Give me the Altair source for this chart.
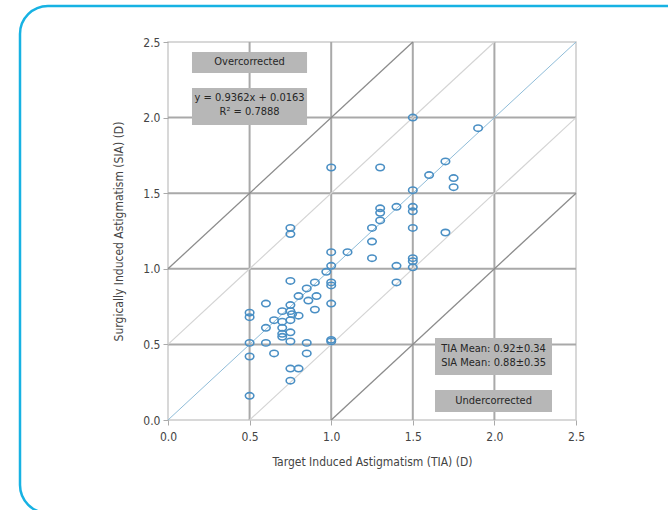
import altair as alt
import pandas as pd

# ---- data ----
tia = [1.50, 1.90, 1.00, 1.30, 1.70, 1.60, 1.75, 1.75, 1.50, 1.30,
       1.30, 1.40, 1.50, 1.50, 1.30, 1.25, 1.50, 1.70, 1.25, 1.00,
       1.10, 1.25, 1.50, 1.50, 1.40, 1.50, 1.00, 1.40, 1.00, 1.00,
       0.97, 0.75, 0.75, 0.75, 0.90, 0.85, 0.80, 0.91, 0.86, 1.00,
       0.60, 0.75, 0.90, 0.50, 0.50, 0.70, 0.75, 0.76, 0.75, 0.80,
       0.65, 0.70, 0.60, 0.70, 0.70, 0.70, 0.75, 0.50, 0.60, 0.75,
       0.85, 1.00, 1.00, 0.50, 0.65, 0.85, 0.75, 0.80, 0.75, 0.50]
sia = [2.00, 1.93, 1.67, 1.67, 1.71, 1.62, 1.60, 1.54, 1.52, 1.40,
       1.37, 1.41, 1.41, 1.38, 1.32, 1.27, 1.27, 1.24, 1.18, 1.11,
       1.11, 1.07, 1.07, 1.05, 1.02, 1.01, 1.02, 0.91, 0.91, 0.89,
       0.98, 1.27, 1.23, 0.92, 0.91, 0.87, 0.82, 0.82, 0.79, 0.77,
       0.77, 0.76, 0.73, 0.71, 0.68, 0.72, 0.72, 0.70, 0.66, 0.69,
       0.66, 0.65, 0.61, 0.61, 0.57, 0.55, 0.58, 0.51, 0.51, 0.52,
       0.51, 0.53, 0.52, 0.42, 0.44, 0.44, 0.34, 0.34, 0.26, 0.16]

grid_values = [0.5, 1.0, 1.5, 2.0]
diag_offsets = [-1.0, -0.5, 0.0, 0.5, 1.0]
diag_kind = ["dark", "light", "identity", "light", "dark"]

box_labels = ["Overcorrected", "eq", "means", "Undercorrected"]
box_x1 = [0.147, 0.147, 1.636, 1.636]
box_x2 = [0.852, 0.852, 2.353, 2.353]
box_y1 = [2.295, 1.951, 0.298, 0.053]
box_y2 = [2.434, 2.196, 0.542, 0.198]

text_lines = ["Overcorrected", "y = 0.9362x + 0.0163", "R² = 0.7888",
              "TIA Mean: 0.92±0.34", "SIA Mean: 0.88±0.35", "Undercorrected"]
text_x = [0.5, 0.5, 0.5, 1.995, 1.995, 1.995]
text_y = [2.365, 2.13, 2.035, 0.468, 0.375, 0.126]

FONT = "DejaVu Sans Condensed, Liberation Sans Narrow, sans-serif"

# ---- tables ----
pts = pd.DataFrame({"TIA": tia, "SIA": sia})
lo, hi = 0.0, 2.5
drows = []
for off, kind in zip(diag_offsets, diag_kind):
    x1 = max(lo, lo - off)
    x2 = min(hi, hi - off)
    drows.append({"x": x1, "y": x1 + off, "x2": x2, "y2": x2 + off, "kind": kind})
diag = pd.DataFrame(drows)
grid = pd.DataFrame({"v": grid_values})
boxes = pd.DataFrame({"name": box_labels, "x1": box_x1, "x2": box_x2, "y1": box_y1, "y2": box_y2})
texts = pd.DataFrame({"t": text_lines, "x": text_x, "y": text_y})

xs = alt.Scale(domain=[0, 2.5], nice=False)
ys = alt.Scale(domain=[0, 2.5], nice=False)

frame = alt.Chart(pd.DataFrame({"a": [0]})).mark_rect(
    cornerRadius=28, fill=None, stroke="#17b2e3", strokeWidth=2.5
).encode(x=alt.value(-148), x2=alt.value(530), y=alt.value(-36), y2=alt.value(471))

vgrid = alt.Chart(grid).mark_rule(color="#a9a9a9", strokeWidth=2).encode(
    x=alt.X("v:Q", scale=xs))
hgrid = alt.Chart(grid).mark_rule(color="#a9a9a9", strokeWidth=2).encode(
    y=alt.Y("v:Q", scale=ys))

diag_layer = alt.Chart(diag).mark_rule().encode(
    x=alt.X("x:Q", scale=xs), y=alt.Y("y:Q", scale=ys),
    x2="x2:Q", y2="y2:Q",
    color=alt.Color("kind:N", scale=alt.Scale(domain=["dark", "light", "identity"],
                                              range=["#8c8c8c", "#d4d4d4", "#8fbcd8"]),
                    legend=None),
    strokeWidth=alt.StrokeWidth("kind:N", scale=alt.Scale(domain=["dark", "light", "identity"],
                                                          range=[1.3, 1.0, 1.5]), legend=None),
)

box_layer = alt.Chart(boxes).mark_rect(fill="#b7b7b7").encode(
    x=alt.X("x1:Q", scale=xs), x2="x2:Q", y=alt.Y("y1:Q", scale=ys), y2="y2:Q")

text_layer = alt.Chart(texts).mark_text(
    font=FONT, fontSize=11, color="#262626", baseline="middle", align="center"
).encode(x=alt.X("x:Q", scale=xs), y=alt.Y("y:Q", scale=ys), text="t:N")

ellipse = "M-1,0A1,0.75 0 1,0 1,0A1,0.75 0 1,0 -1,0Z"
points = alt.Chart(pts).mark_point(
    shape=ellipse, filled=False, size=72, strokeWidth=1.6, color="#4a8fc4", opacity=1
).encode(
    x=alt.X("TIA:Q", scale=xs,
            axis=alt.Axis(title="Target Induced Astigmatism (TIA) (D)", values=[0, 0.5, 1, 1.5, 2, 2.5],
                          format=".1f", grid=False, domain=False, tickColor="#aaaaaa", tickSize=5,
                          labelFlush=False,
                          labelFont=FONT, labelFontSize=12, labelColor="#444444", labelPadding=6,
                          titleFont=FONT, titleFontSize=12, titleFontWeight="normal",
                          titleColor="#444444", titlePadding=14)),
    y=alt.Y("SIA:Q", scale=ys,
            axis=alt.Axis(title="Surgically Induced Astigmatism (SIA) (D)", values=[0, 0.5, 1, 1.5, 2, 2.5],
                          format=".1f", grid=False, domain=False, tickColor="#aaaaaa", tickSize=5,
                          labelFlush=False,
                          labelFont=FONT, labelFontSize=12, labelColor="#444444", labelPadding=3,
                          titleFont=FONT, titleFontSize=12, titleFontWeight="normal",
                          titleColor="#444444", titlePadding=17)),
)

chart = alt.layer(frame, vgrid, hgrid, diag_layer, box_layer, text_layer, points).properties(
    width=408, height=378,
    padding={"left": 168, "top": 42, "right": 92, "bottom": 90},
    autosize=alt.AutoSizeParams(type="none"),
    background="white",
).configure_view(stroke="#cccccc", strokeWidth=1.5).resolve_scale(color="independent")

chart.save("out.html", embed_options={"renderer": "svg", "actions": False})
